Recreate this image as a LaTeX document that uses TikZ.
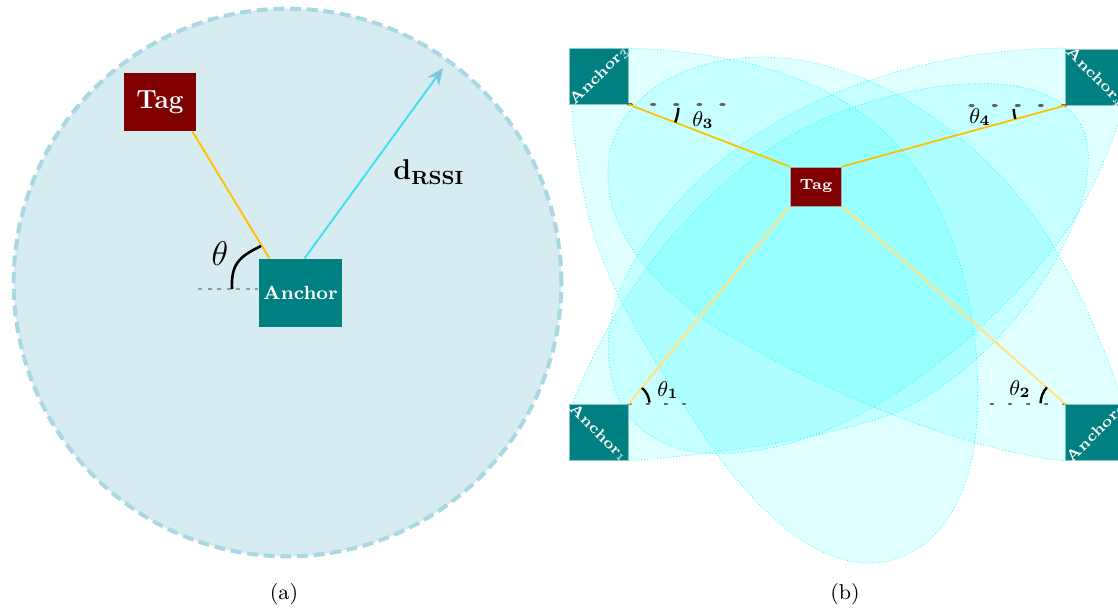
\documentclass[tikz,border=0pt]{standalone}
\usetikzlibrary{arrows.meta,calc}

\definecolor{tagred}{RGB}{128,0,0}
\definecolor{anchorteal}{RGB}{0,128,128}
\definecolor{linkyellow}{RGB}{255,192,0}
\definecolor{paleyellow}{RGB}{255,228,140}
\definecolor{rangefill}{RGB}{214,236,241}
\definecolor{rangeedge}{RGB}{168,216,228}
\definecolor{rssicyan}{RGB}{64,224,240}
\definecolor{rssitip}{RGB}{120,200,222}
\definecolor{lobecyan}{RGB}{0,255,255}
\definecolor{dotgray}{RGB}{100,100,100}

\begin{document}
\begin{tikzpicture}[x=0.42pt,y=-0.42pt,
  rangezone/.style={circle, minimum size=230pt, inner sep=0pt, fill=rangefill,
    draw=rangeedge, line width=1.7pt, dash pattern=on 4.6pt off 2.4pt},
  tagbig/.style={fill=tagred, text=white, inner sep=0pt, minimum width=30.2pt,
    minimum height=24.4pt, font=\fontsize{11}{13}\selectfont\bfseries},
  anchorbig/.style={fill=anchorteal, text=white, inner sep=0pt, minimum width=34.9pt,
    minimum height=28.6pt, font=\footnotesize\bfseries},
  tagsmall/.style={fill=tagred, text=white, inner sep=0pt, minimum width=21.8pt,
    minimum height=16.4pt, draw=gray!70, line width=0.4pt,
    font=\fontsize{6.2}{7}\selectfont\bfseries},
  anchorsmall/.style={fill=anchorteal, inner sep=0pt, minimum width=24.4pt,
    minimum height=23.5pt, draw=teal!45, line width=0.4pt},
  anchortext/.style={text=white, inner sep=0pt, font=\fontsize{6.4}{7}\selectfont\bfseries},
  lobe/.style={fill=lobecyan, fill opacity=0.12, draw=lobecyan, draw opacity=0.85,
    densely dotted, line width=0.35pt},
  link/.style={linkyellow, line width=0.75pt},
  palelink/.style={paleyellow, line width=0.9pt},
  bigdots/.style={dotgray, line width=1.3pt, line cap=round, dash pattern=on 1.3pt off 8.4pt},
  smalldots/.style={dotgray, line width=0.9pt, line cap=round, dash pattern=on 1pt off 6.6pt},
  anglearc/.style={black, line width=1pt},
]
\useasboundingbox (0,0) rectangle (1118,612);

% ================= (a): one anchor and its RSSI range =================
\node[rangezone] (zone) at (287.5,282.5) {};
\node[tagbig] (tagA) at (160,102) {Tag};
\node[anchorbig] (anchA) at (300.5,293) {Anchor};
\coordinate (rim) at (443,68);

\draw[link, line width=0.8pt] ($(tagA.south east)+(-4,0)$) -- ($(anchA.north west)+(11,0)$);
\draw[rssicyan, line width=0.8pt, -{Stealth[length=7pt,width=6pt,color=rssitip]}]
  ($(anchA.north west)+(46,0)$) -- (rim);
\draw[gray!80, line width=0.9pt, dash pattern=on 1.8pt off 2.2pt]
  (198,289) -- (anchA.west |- 0,289);
\draw[anglearc, line width=1.1pt] (232,289) .. controls (231,265) and (238,257) .. (261,246);
\node[font=\fontsize{14}{16}\selectfont] (thetaA) at (220,254) {$\theta$};
\node[font=\large] (dlabel) at (429,172) {$\mathbf{d}_{\mathbf{RSSI}}$};
\node[font=\small] (capA) at (284,594) {(a)};

% ================= (b): four anchors, beam lobes and AoA =================
% lobe of anchor 3 (downwards)
\path[lobe] (628,48) .. controls (740,52) and (850,80) .. (910,160)
  .. controls (970,240) and (985,360) .. (975,440)
  .. controls (965,520) and (920,565) .. (865,563)
  .. controls (800,560) and (740,490) .. (700,430)
  .. controls (650,355) and (600,280) .. (585,200)
  .. controls (577,160) and (572,130) .. (572,104) -- cycle;
% lobe of anchor 2 (up and left)
\path[lobe] (1066,461) .. controls (960,450) and (820,390) .. (720,330)
  .. controls (650,285) and (605,230) .. (608,167)
  .. controls (612,100) and (680,58) .. (760,57)
  .. controls (880,56) and (990,150) .. (1040,225)
  .. controls (1080,285) and (1105,350) .. (1124,404) -- cycle;
% lobe of anchor 1 (up and right)
\path[lobe] (572,405) .. controls (620,280) and (720,150) .. (860,105)
  .. controls (960,72) and (1080,70) .. (1088,150)
  .. controls (1095,230) and (1000,370) .. (890,415)
  .. controls (800,445) and (700,455) .. (628,461) -- cycle;
% lobe of anchor 4 (down and left)
\path[lobe] (1066,48) .. controls (900,50) and (760,110) .. (680,200)
  .. controls (620,265) and (595,330) .. (615,390)
  .. controls (635,445) and (690,462) .. (760,450)
  .. controls (880,430) and (1000,320) .. (1060,240)
  .. controls (1090,200) and (1110,150) .. (1124,106) -- cycle;

\node[anchorsmall] (b3) at (599,76) {};
\node[anchorsmall] (b4) at (1095,77) {};
\node[anchorsmall] (b1) at (599,432.5) {};
\node[anchorsmall] (b2) at (1095,432.5) {};
\node[anchortext, rotate=45] (b3t) at (b3) {Anchor\oldstylenums{3}};
\node[anchortext, rotate=-45] (b4t) at (b4) {Anchor\oldstylenums{4}};
\node[anchortext, rotate=-45] (b1t) at (b1) {Anchor\oldstylenums{1}};
\node[anchortext, rotate=45] (b2t) at (b2) {Anchor\oldstylenums{2}};
\node[tagsmall] (tagB) at (816,186.5) {Tag};

% horizontal references
\draw[bigdots] (b3.south east) -- ++(102,0);
\draw[bigdots] (b4.south west) -- ++(-100,0);
\draw[smalldots] (b1.north east) -- ++(72,0);
\draw[smalldots] (b2.north west) -- ++(-81,0);

% anchor to tag links
\draw[link] (b3.south east) -- (tagB.north west);
\draw[link] (b4.south west) -- (tagB.north east);
\draw[palelink] (b1.north east) -- (tagB.south west);
\draw[palelink] (b2.north west) -- (tagB.south east);

% angles of arrival
\draw[anglearc] (b3.south east) ++(4:50) arc[start angle=4, end angle=21, radius=50];
\draw[anglearc] (b4.south west) ++(176:52) arc[start angle=176, end angle=165, radius=52];
\draw[anglearc] (b1.north east) ++(-4:21) arc[start angle=-4, end angle=-50, radius=21];
\draw[anglearc] (b2.north west) ++(182:25) arc[start angle=182, end angle=222, radius=25];
\node[font=\small] (th3) at (703,120) {$\theta_{\mathbf{3}}$};
\node[font=\small] (th4) at (980,117) {$\theta_{\mathbf{4}}$};
\node[font=\small] (th1) at (668,390) {$\theta_{\mathbf{1}}$};
\node[font=\small] (th2) at (1020,389) {$\theta_{\mathbf{2}}$};

\node[font=\small] (capB) at (845,594) {(b)};
\end{tikzpicture}
\end{document}
